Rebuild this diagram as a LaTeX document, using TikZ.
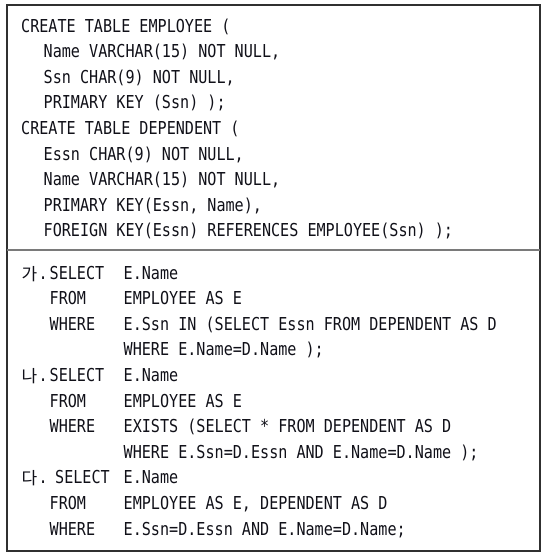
\documentclass[tikz,border=0pt]{standalone}
\usepackage{fontspec}
\newfontfamily\codefont[FakeStretch=0.849]{DejaVu Sans Mono}
\newfontfamily\krfont{Noto Sans CJK KR}
\definecolor{txt}{HTML}{101018}
\definecolor{frame}{HTML}{303030}
\definecolor{divider}{HTML}{7A7A7A}
\tikzset{
  code/.style={anchor=base west, inner sep=0pt, text=txt, font=\codefont\fontsize{17.8}{20}\selectfont},
  kr/.style={anchor=base west, inner sep=0pt, text=txt, font=\krfont\fontsize{17}{19}\selectfont},
  framebox/.style={draw=frame, line width=1.3pt},
  divline/.style={draw=divider, line width=1.5pt}
}
\begin{document}
\begin{tikzpicture}[x=1pt,y=1pt]
\useasboundingbox (0,0) rectangle (558,-557);
\draw[framebox] (7,-5) rectangle (540,-551);
\coordinate (dl) at (7,-250);
\coordinate (dr) at (540,-250);
\draw[divline] (dl) -- (dr);
% top section
\node[code] (t0) at (21,-32.0) {CREATE TABLE EMPLOYEE (};
\node[code] (t1) at (43.5,-57.6) {Name VARCHAR(15) NOT NULL,};
\node[code] (t2) at (43.5,-83.2) {Ssn CHAR(9) NOT NULL,};
\node[code] (t3) at (43.5,-108.8) {PRIMARY KEY (Ssn) );};
\node[code] (t4) at (21,-134.4) {CREATE TABLE DEPENDENT (};
\node[code] (t5) at (43.5,-160.0) {Essn CHAR(9) NOT NULL,};
\node[code] (t6) at (43.5,-185.6) {Name VARCHAR(15) NOT NULL,};
\node[code] (t7) at (43.5,-211.2) {PRIMARY KEY(Essn, Name),};
\node[code] (t8) at (43.5,-236.8) {FOREIGN KEY(Essn) REFERENCES EMPLOYEE(Ssn) );};
% bottom section
\node[kr] (ka) at (21.5,-280.0) {가};
\node[code] (kad) at (38.5,-279.0) {.};
\node[code] (b0a) at (49.5,-279.0) {SELECT};
\node[code] (b0b) at (123.5,-279.0) {E.Name};
\node[code] (b1a) at (49.5,-304.6) {FROM};
\node[code] (b1b) at (123.5,-304.6) {EMPLOYEE AS E};
\node[code] (b2a) at (49.5,-330.2) {WHERE};
\node[code] (b2b) at (123.5,-330.2) {E.Ssn IN (SELECT Essn FROM DEPENDENT AS D};
\node[code] (b3b) at (123.5,-355.8) {WHERE E.Name=D.Name );};
\node[kr] (na) at (21.5,-382.4) {나};
\node[code] (nad) at (38.5,-381.4) {.};
\node[code] (b4a) at (49.5,-381.4) {SELECT};
\node[code] (b4b) at (123.5,-381.4) {E.Name};
\node[code] (b5a) at (49.5,-407.0) {FROM};
\node[code] (b5b) at (123.5,-407.0) {EMPLOYEE AS E};
\node[code] (b6a) at (49.5,-432.6) {WHERE};
\node[code] (b6b) at (123.5,-432.6) {EXISTS (SELECT * FROM DEPENDENT AS D};
\node[code] (b7b) at (123.5,-458.2) {WHERE E.Ssn=D.Essn AND E.Name=D.Name );};
\node[kr] (da) at (21.5,-484.8) {다};
\node[code] (dad) at (38.5,-483.8) {.};
\node[code] (b8a) at (55,-483.8) {SELECT};
\node[code] (b8b) at (123.5,-483.8) {E.Name};
\node[code] (b9a) at (49.5,-509.4) {FROM};
\node[code] (b9b) at (123.5,-509.4) {EMPLOYEE AS E, DEPENDENT AS D};
\node[code] (b10a) at (49.5,-535.0) {WHERE};
\node[code] (b10b) at (123.5,-535.0) {E.Ssn=D.Essn AND E.Name=D.Name;};
\end{tikzpicture}
\end{document}
